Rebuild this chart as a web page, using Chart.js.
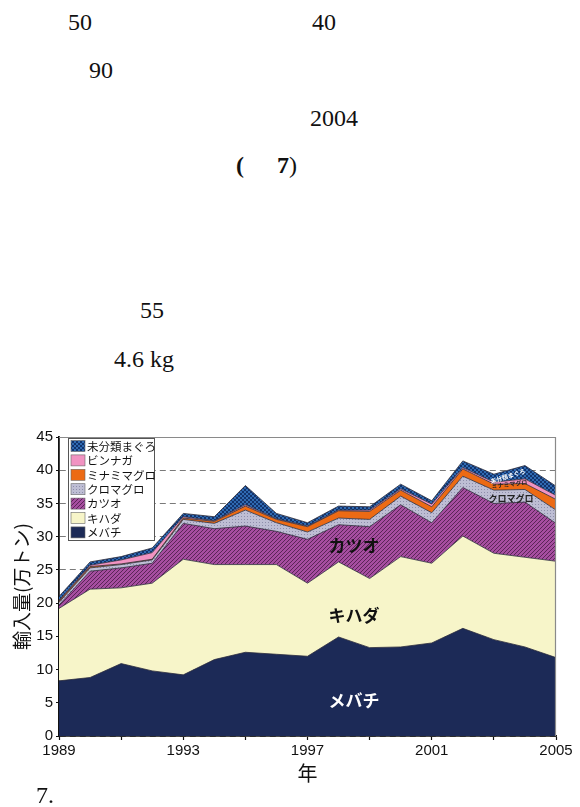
<!DOCTYPE html>
<html><head><meta charset="utf-8">
<script src="https://cdn.jsdelivr.net/npm/chart.js@4/dist/chart.umd.min.js"></script>
<style>
body{margin:0;width:580px;height:807px;background:#fff;position:relative;overflow:hidden}
.t{position:absolute;font-family:"Liberation Serif","Times New Roman",serif;font-size:24px;line-height:24px;color:#111;white-space:pre;z-index:2}
#c{position:absolute;left:0;top:425px;z-index:1}
</style></head><body>
<div class="t" style="left:68px;top:10px">50</div>
<div class="t" style="left:312px;top:10px">40</div>
<div class="t" style="left:89px;top:58px">90</div>
<div class="t" style="left:310px;top:106px">2004</div>
<div class="t" style="left:236px;top:153px"><b>(</b></div>
<div class="t" style="left:277px;top:153px"><b>7</b>)</div>
<div class="t" style="left:140px;top:298px">55</div>
<div class="t" style="left:114px;top:347px">4.6 kg</div>
<div class="t" style="left:36px;top:783px">7.</div>
<canvas id="c" width="580" height="360"></canvas>
<script>
const years = [1989,1990,1991,1992,1993,1994,1995,1996,1997,1998,1999,2000,2001,2002,2003,2004,2005];
const mebachi    = [8.3,8.8,10.9,9.8,9.2,11.5,12.6,12.3,12.0,14.9,13.3,13.4,14.0,16.2,14.5,13.4,11.8];
const kihada     = [10.9,13.3,11.4,13.2,17.4,14.3,13.2,13.5,11.0,11.3,10.4,13.6,12.0,13.9,13.0,13.5,14.5];
const katsuo     = [0.5,2.7,3.0,3.0,5.4,5.4,5.8,5.0,6.6,5.6,7.8,7.8,6.1,7.3,7.5,8.3,5.7];
const kuromaguro = [0.4,0.5,0.5,0.5,0.6,0.8,2.4,1.3,1.1,1.0,1.1,1.3,1.5,1.7,2.0,1.9,2.0];
const minami     = [0.2,0.2,0.1,0.1,0.2,0.3,0.6,0.5,0.8,1.1,1.2,0.9,0.9,1.1,0.9,0.9,1.6];
const binnaga    = [0.1,0.2,0.6,1.0,0.2,0.1,0.2,0.1,0.1,0.1,0.2,0.2,0.4,0.2,0.3,0.7,0.6];
const mibunrui   = [0.6,0.5,0.5,0.7,0.5,0.6,2.9,0.8,0.5,0.6,0.5,0.7,0.5,1.0,1.2,2.0,1.4];
const seriesNames = ['メバチ','キハダ','カツオ','クロマグロ','ミナミマグロ','ビンナガ','未分類まぐろ'];
const yTicks = [0,5,10,15,20,25,30,35,40,45];
const xLabelYears = [1989,1993,1997,2001,2005];

function pat(size, bg, draw){
  const c=document.createElement('canvas'); c.width=c.height=size;
  const g=c.getContext('2d'); g.fillStyle=bg; g.fillRect(0,0,size,size); draw(g,size);
  return document.getElementById('c').getContext('2d').createPattern(c,'repeat');
}
const stripe = pat(4,'#a64ea0',(g,s)=>{g.strokeStyle='#52204f';g.lineWidth=0.9;g.beginPath();g.moveTo(-1,s+1);g.lineTo(s+1,-1);g.moveTo(-1,1);g.lineTo(1,-1);g.moveTo(s-1,s+1);g.lineTo(s+1,s-1);g.stroke();});
const dots = pat(3,'#bebed4',(g)=>{g.fillStyle='#8e8eab';g.fillRect(1,1,1,1);});
const checks = pat(4,'#2f6ab2',(g)=>{g.fillStyle='#12336c';g.fillRect(0,0,2,2);g.fillRect(2,2,2,2);});
const fills = ['#1c2a57','#f7f5c9',stripe,dots,'#ec6a14','#f193c2',checks];
const values = [mebachi,kihada,katsuo,kuromaguro,minami,binnaga,mibunrui];

const datasets = values.map((v,i)=>({
  label: seriesNames[i],
  data: years.map((y,j)=>({x:y,y:v[j]})),
  backgroundColor: fills[i],
  borderColor: '#2b2b3a',
  borderWidth: 0.8,
  pointRadius: 0,
  tension: 0,
  fill: i===0 ? 'origin' : '-1'
}));

const JP = '"Noto Sans CJK JP","Noto Sans",sans-serif';
const labels = [
  {t:'カツオ', x:1998.5, y:28.6, size:17, color:'#111', bold:true, rot:0},
  {t:'キハダ', x:1998.5, y:18.2, size:17, color:'#111', bold:true, rot:0},
  {t:'メバチ', x:1998.5, y:5.4, size:17, color:'#fff', bold:true, rot:0},
  {t:'クロマグロ', x:2003.55, y:35.8, size:9, color:'#222', bold:true, rot:0},
  {t:'ミナミマグロ', x:2003.5, y:37.9, size:6, color:'#222', bold:true, rot:-0.12},
  {t:'未分類まぐろ', x:2003.45, y:39.1, size:6, color:'#fff', bold:true, rot:-0.3}
];

const decor = {
  id:'decor',
  afterDatasetsDraw(chart){
    const {ctx, chartArea:a, scales:{x,y}} = chart;
    ctx.save();
    ctx.strokeStyle='#8a8a8a'; ctx.lineWidth=1.2;
    ctx.beginPath(); ctx.moveTo(a.left,a.top+0.5); ctx.lineTo(a.right-0.5,a.top+0.5); ctx.lineTo(a.right-0.5,a.bottom); ctx.stroke();
    labels.forEach(l=>{
      ctx.save();
      ctx.translate(x.getPixelForValue(l.x), y.getPixelForValue(l.y));
      ctx.rotate(l.rot);
      ctx.font=(l.bold?'bold ':'')+l.size+'px '+JP;
      ctx.fillStyle=l.color; ctx.textAlign='center'; ctx.textBaseline='middle';
      ctx.fillText(l.t,0,0);
      ctx.restore();
    });
    const lx=68, ly=a.top+1, lw=86, lh=102;
    ctx.fillStyle='#fff'; ctx.fillRect(lx,ly,lw,lh);
    ctx.strokeStyle='#555'; ctx.lineWidth=1; ctx.strokeRect(lx+0.5,ly+0.5,lw,lh);
    ctx.font='11.5px '+JP; ctx.textBaseline='middle'; ctx.textAlign='left';
    for(let k=0;k<7;k++){
      const i=6-k; const cy=ly+8+k*14.4;
      ctx.fillStyle=fills[i]; ctx.fillRect(lx+3,cy-5.5,14,11);
      ctx.strokeStyle='#666'; ctx.lineWidth=0.6; ctx.strokeRect(lx+3,cy-5.5,14,11);
      ctx.fillStyle='#111'; ctx.fillText(seriesNames[i], lx+19, cy+0.5);
    }
    ctx.restore();
  }
};

new Chart(document.getElementById('c'), {
  type:'line',
  data:{datasets},
  options:{
    responsive:false, animation:false,
    layout:{padding:{top:12,right:24,left:0,bottom:0}},
    plugins:{legend:{display:false}, tooltip:{enabled:false}},
    scales:{
      x:{
        type:'linear', min:years[0], max:years[years.length-1],
        afterFit(s){ s.height=49; },
        afterBuildTicks(s){ s.ticks = years.filter((y,i)=>i%2===0).map(v=>({value:v})); },
        ticks:{ callback:(v)=> xLabelYears.includes(v) ? String(v) : '', autoSkip:false, maxRotation:0, padding:2,
          color:'#111', font:{family:'"Liberation Sans",Arial,sans-serif', size:15} },
        grid:{ drawOnChartArea:false, drawTicks:true, tickLength:4, tickColor:'#111', tickWidth:1.2 },
        border:{ color:'#111', width:1.8 },
        title:{ display:true, text:'年', color:'#111', font:{family:JP, size:20}, padding:{top:13,bottom:0} }
      },
      y:{
        stacked:true, min:0, max:45,
        afterFit(s){ s.width=59; },
        afterBuildTicks(s){ s.ticks = yTicks.map(v=>({value:v})); },
        ticks:{ color:'#111', padding:3, font:{family:'"Liberation Sans",Arial,sans-serif', size:15} },
        grid:{ color:'#7a7a7a', lineWidth:1, tickLength:3, tickColor:'#111', tickBorderDash:[] },
        border:{ color:'#111', width:1.8, dash:[6,4] },
        title:{ display:true, text:'輸入量(万トン)', color:'#111', font:{family:JP, size:19}, padding:{top:10,bottom:0} }
      }
    }
  },
  plugins:[decor]
});
</script>
</body></html>
